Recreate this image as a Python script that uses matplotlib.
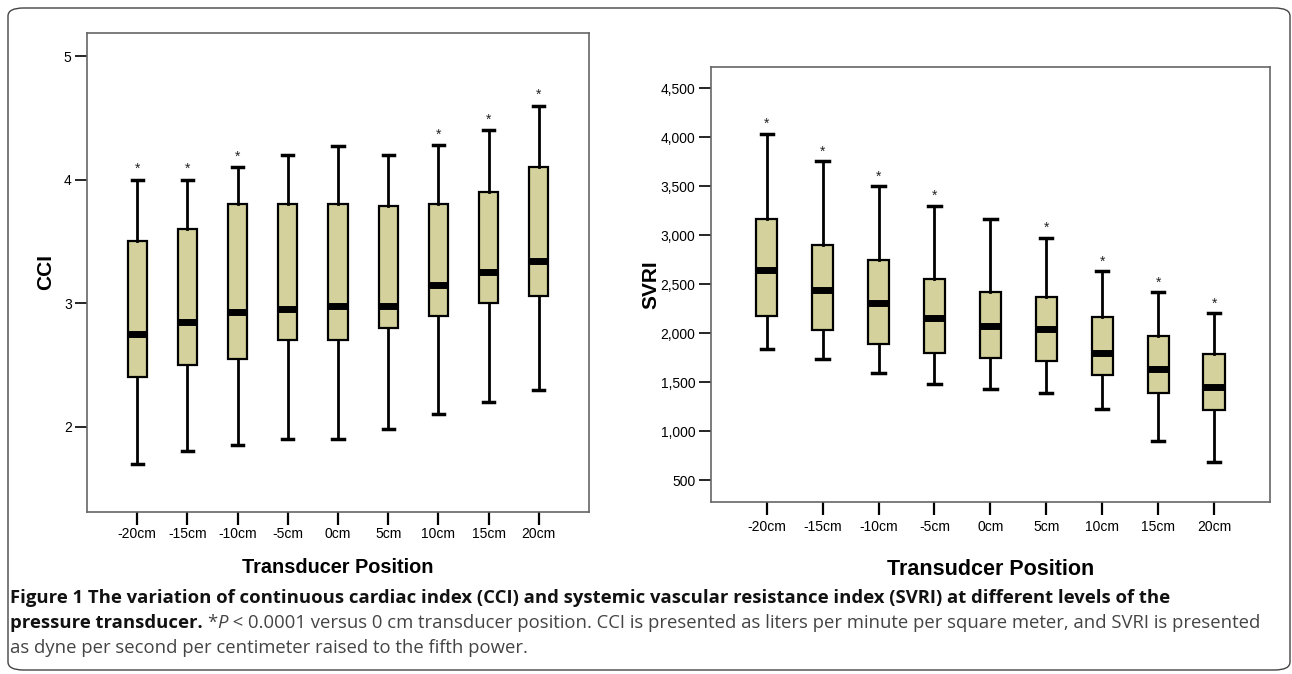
import matplotlib
matplotlib.use("Agg")
import matplotlib.pyplot as plt
from matplotlib.patches import FancyBboxPatch
import numpy as np

positions = ["-20cm", "-15cm", "-10cm", "-5cm", "0cm", "5cm", "10cm", "15cm", "20cm"]

# CCI box stats (low whisker, Q1, median, Q3, high whisker)
cci_low = [1.70, 1.80, 1.85, 1.90, 1.90, 1.98, 2.10, 2.20, 2.30]
cci_q1 = [2.40, 2.50, 2.55, 2.70, 2.70, 2.80, 2.90, 3.00, 3.06]
cci_med = [2.75, 2.85, 2.93, 2.95, 2.98, 2.98, 3.15, 3.25, 3.34]
cci_q3 = [3.50, 3.60, 3.80, 3.80, 3.80, 3.79, 3.80, 3.90, 4.10]
cci_high = [4.00, 4.00, 4.10, 4.20, 4.27, 4.20, 4.28, 4.40, 4.60]
cci_sig = [True, True, True, False, False, False, True, True, True]

# SVRI box stats
svri_low = [1842, 1733, 1596, 1487, 1434, 1389, 1227, 900, 690]
svri_q1 = [2179, 2031, 1894, 1803, 1743, 1715, 1571, 1392, 1216]
svri_med = [2649, 2442, 2312, 2154, 2077, 2049, 1803, 1634, 1448]
svri_q3 = [3162, 2899, 2744, 2554, 2421, 2372, 2168, 1975, 1785]
svri_high = [4036, 3755, 3499, 3299, 3162, 2972, 2632, 2417, 2203]
svri_sig = [True, True, True, True, False, True, True, True, True]

BOX_FILL = "#d5d19c"
FRAME = "#666666"

fig = plt.figure(figsize=(12.92, 6.74), dpi=100)
plt.rcParams["font.family"] = ["Liberation Sans", "DejaVu Sans"]


def draw_boxes(ax, low, q1, med, q3, high, sig, star_off, xpad):
    stats = []
    for i in range(len(positions)):
        stats.append({"whislo": low[i], "q1": q1[i], "med": med[i],
                      "q3": q3[i], "whishi": high[i], "fliers": []})
    ax.bxp(stats, positions=np.arange(len(positions)), widths=0.38,
           patch_artist=True, showfliers=False,
           boxprops=dict(facecolor=BOX_FILL, edgecolor="black", linewidth=1.6),
           medianprops=dict(color="black", linewidth=5, solid_capstyle="butt"),
           whiskerprops=dict(color="black", linewidth=2),
           capprops=dict(color="black", linewidth=2.5),
           capwidths=0.22)
    for i, s in enumerate(sig):
        if s:
            ax.text(i, high[i] + star_off, "*", ha="center", va="bottom",
                    fontsize=10, color="#222222")
    ax.set_xlim(-1, 9)
    ax.set_xticks(np.arange(len(positions)))
    ax.set_xticklabels(positions, fontsize=10)
    for sp in ax.spines.values():
        sp.set_color(FRAME)
        sp.set_linewidth(1.2)
    ax.tick_params(axis="x", length=9, width=1.6, color="black", pad=xpad)
    ax.tick_params(axis="y", length=9, width=1.2, color="black", labelsize=10, pad=2)


ax1 = fig.add_axes([0.0673, 0.2404, 0.3886, 0.711])
draw_boxes(ax1, cci_low, cci_q1, cci_med, cci_q3, cci_high, cci_sig, 0.03, 2)
ax1.set_ylim(1.31, 5.19)
ax1.set_yticks([2, 3, 4, 5])
ax1.set_ylabel("CCI", fontsize=15, fontweight="bold", labelpad=6)
ax1.set_xlabel("Transducer Position", fontsize=14.3, fontweight="bold", labelpad=12)

ax2 = fig.add_axes([0.5501, 0.2552, 0.4329, 0.646])
draw_boxes(ax2, svri_low, svri_q1, svri_med, svri_q3, svri_high, svri_sig, 30, 4)
ax2.set_ylim(279, 4721)
ax2.set_yticks([500, 1000, 1500, 2000, 2500, 3000, 3500, 4000, 4500])
ax2.set_yticklabels(["{:,}".format(v) for v in ax2.get_yticks().astype(int)])
ax2.set_ylabel("SVRI", fontsize=15, fontweight="bold", labelpad=0)
ax2.set_xlabel("Transudcer Position", fontsize=15.5, fontweight="bold", labelpad=18)

# rounded border around the whole figure
border = FancyBboxPatch((8 / 1292, 4 / 674), 1282 / 1292, 662 / 674,
                        boxstyle="round,pad=0,rounding_size=0.012",
                        transform=fig.transFigure, fill=False,
                        edgecolor="#444444", linewidth=1.0)
fig.patches.append(border)

# caption, drawn piece by piece
renderer = fig.canvas.get_renderer()
cap_font = ["Open Sans", "DejaVu Sans"]
cap_size = 13.3


def put(x, y, s, **kw):
    t = fig.text(x / 1292, 1 - y / 674, s, fontsize=cap_size, family=cap_font,
                 va="center", ha="left", **kw)
    bb = t.get_window_extent(renderer)
    return bb.x1


put(10, 598, "Figure 1 The variation of continuous cardiac index (CCI) and systemic vascular "
             "resistance index (SVRI) at different levels of the", fontweight="bold", color="#111111")
x = put(10, 623, "pressure transducer. ", fontweight="bold", color="#111111")
x = put(x, 623, "*", color="#444444")
x = put(x, 623, "P", style="italic", color="#444444")
put(x, 623, " < 0.0001 versus 0 cm transducer position. CCI is presented as liters per minute "
            "per square meter, and SVRI is presented", color="#444444")
put(10, 648, "as dyne per second per centimeter raised to the fifth power.", color="#444444")

fig.savefig("out.png", dpi=100)
